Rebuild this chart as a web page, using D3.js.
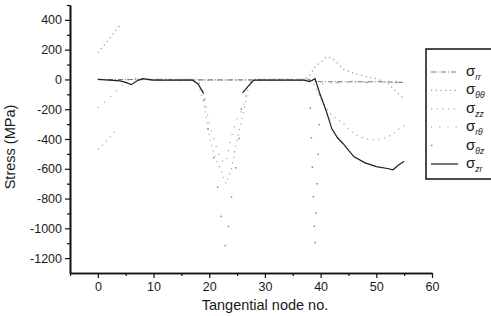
<!DOCTYPE html>
<html>
<head>
<meta charset="utf-8">
<script src="https://cdn.jsdelivr.net/npm/d3@7"></script>
<style>
  body { margin: 0; background: #fff; }
  text { font-family: "Liberation Sans", Arial, sans-serif; fill: #1a1a1a; }
</style>
</head>
<body>
<div id="viz"></div>
<script>
// tick values
var xMajor = [0, 10, 20, 30, 40, 50, 60]
var xMinor = [-5, 5, 15, 25, 35, 45, 55]
var yMajor = [-1200, -1000, -800, -600, -400, -200, 0, 200, 400]
var yMinor = [-1100, -900, -700, -500, -300, -100, 100, 300, 500]

// sigma_rr : dashed line sitting near zero
var nodesRR = [0, 5, 10, 15, 20, 25, 30, 35, 38, 40, 45, 50, 53, 55]
var sigmaRR = [0, 0, -3, -3, -3, -3, -3, -3, -5, -15, -15, -15, -18, -20]

// sigma_thth : dotted, upper left branch and the peak near node 41 (null = lost in the scan)
var nodesTT = [0, 1, 2, 3, 4, 5, 7, 10, 17, 20, 25, 28, 37, 38, 39, 40, 41, 42, 43, 44, 46, 48, 50, 52, 53, 54, 55]
var sigmaTT = [180, 225, 270, 320, 365, null, 0, 0, 0, -5, -5, 0, 0, 25, 85, 115, 150, 145, 110, 70, 40, 20, 5, -25, -60, -100, -130]

// sigma_zz : dotted, lower left branch, the V and the bowl near node 50
var nodesZZ = [0, 1, 2, 3, 4, 7, 10, 17, 18, 19, 20, 21, 22, 23, 24, 25, 26, 27, 28, 37, 38, 39, 40, 41, 42, 44, 46, 48, 50, 52, 53, 54, 55]
var sigmaZZ = [-470, -435, -395, -350, null, 0, 0, 0, -30, -150, -380, -520, -600, -700, -600, -400, -250, -60, 0, 0, -10, -40, -130, -190, -240, -295, -365, -400, -407, -388, -365, -335, -310]

// sigma_rth : sparse dots, rising from -190
var nodesRT = [0, 1, 2, 3, 4, 5, 6, 7, 10, 17, 18, 19, 20, 21, 22, 23, 24, 25, 26, 27, 28, 37, 38, 40, 45, 50, 55]
var sigmaRT = [-190, -160, -125, -90, -55, -15, 15, 5, 0, 0, -10, -90, -300, -420, -540, -560, -380, -260, -200, -20, 0, 0, 0, -30, -20, -15, -10]

// sigma_thz : very sparse dots, deep minima at nodes 23 and 39
var nodesTZ = [0, 10, 17, 19, 20, 21, 22, 23, 24, 25, 26, 28, 37, 38, 39, 40, 45, 50, 55]
var sigmaTZ = [0, 0, 0, -100, -400, -560, -880, -1150, -790, -540, -100, 0, 0, 0, -1140, -20, -20, -20, -20]

// sigma_zr : solid curve, wiggle at node 6 and the -600 bowl
var nodesZR = [0, 2, 4, 5, 6, 7, 8, 10, 12, 14, 16, 17, 18, 19, 20, 26, 27, 28, 30, 32, 34, 36, 37, 38, 39, 40, 41, 42, 43, 44, 46, 48, 50, 52, 53, 54, 55]
var sigmaZR = [0, -5, -10, -20, -35, -10, 5, -5, -5, -5, -5, -5, -30, -95, null, -90, -45, -5, -5, -5, -5, -5, -5, -15, 5, -110, -210, -330, -390, -430, -520, -560, -585, -598, -607, -575, -550]

var series = [
  { name: "rr", nodes: nodesRR, values: sigmaRR, color: "#777", dash: "5,2,1,2", width: 1.1 },
  { name: "θθ", nodes: nodesTT, values: sigmaTT, color: "#999", dash: "1.2,3.5", width: 1.3 },
  { name: "zz", nodes: nodesZZ, values: sigmaZZ, color: "#aaa", dash: "1.2,4.5", width: 1.3 },
  { name: "rθ", nodes: nodesRT, values: sigmaRT, color: "#aaa", dash: "1.2,7", width: 1.3 },
  { name: "θz", nodes: nodesTZ, values: sigmaTZ, color: "#888", dash: "1.5,28", width: 1.5 },
  { name: "zr", nodes: nodesZR, values: sigmaZR, color: "#1e1e1e", dash: null, width: 1.2 }
]

var width = 491, height = 316
var margin = { top: 5, right: 59, bottom: 43, left: 70 }

var svg = d3.select("#viz")
  .append("svg")
  .attr("width", width)
  .attr("height", height)

var x = d3.scaleLinear().domain([-5, 60]).range([margin.left, width - margin.right])
var y = d3.scaleLinear().domain([-1300, 500]).range([height - margin.bottom, margin.top])

var line = d3.line()
  .defined(function (d) { return d[1] != null })
  .x(function (d) { return x(d[0]) })
  .y(function (d) { return y(d[1]) })

// curves
series.forEach(function (s) {
  var pts = s.nodes.map(function (n, i) { return [n, s.values[i]] })
  svg.append("path")
    .datum(pts)
    .attr("fill", "none")
    .attr("stroke", s.color)
    .attr("stroke-width", s.width)
    .attr("stroke-dasharray", s.dash)
    .attr("d", line)
})

var fmt = function (d) { return String(d) }

// x axis
svg.append("g")
  .attr("transform", "translate(0," + y.range()[0] + ")")
  .call(d3.axisBottom(x).tickValues(xMajor).tickSize(5).tickSizeOuter(0).tickPadding(4).tickFormat(fmt))
svg.append("g")
  .attr("transform", "translate(0," + y.range()[0] + ")")
  .call(d3.axisBottom(x).tickValues(xMinor).tickSize(3).tickSizeOuter(0).tickFormat(""))

// y axis
svg.append("g")
  .attr("transform", "translate(" + x.range()[0] + ",0)")
  .call(d3.axisLeft(y).tickValues(yMajor).tickSize(5).tickSizeOuter(0).tickPadding(3).tickFormat(fmt))
svg.append("g")
  .attr("transform", "translate(" + x.range()[0] + ",0)")
  .call(d3.axisLeft(y).tickValues(yMinor).tickSize(3).tickSizeOuter(0).tickFormat(""))

svg.selectAll(".domain").attr("stroke", "#111").attr("stroke-width", 1.6)
svg.selectAll(".tick line").attr("stroke", "#111").attr("stroke-width", 1.2)
svg.selectAll(".tick text")
  .style("font-family", "'Liberation Sans', Arial, sans-serif")
  .style("font-size", "12.5px")
  .attr("fill", "#111")

// axis titles
svg.append("text")
  .attr("x", 265)
  .attr("y", 310)
  .attr("text-anchor", "middle")
  .style("font-size", "14.5px")
  .text("Tangential node no.")

svg.append("text")
  .attr("transform", "translate(15,147) rotate(-90)")
  .attr("text-anchor", "middle")
  .style("font-size", "14.5px")
  .text("Stress (MPa)")

// legend
var legend = svg.append("g")
legend.append("rect")
  .attr("x", 426)
  .attr("y", 49)
  .attr("width", 80)
  .attr("height", 130)
  .attr("fill", "none")
  .attr("stroke", "#111")
  .attr("stroke-width", 1.5)

series.forEach(function (s, i) {
  var ly = 72 + i * 18.4
  legend.append("line")
    .attr("x1", 431).attr("x2", 458)
    .attr("y1", ly).attr("y2", ly)
    .attr("stroke", s.color)
    .attr("stroke-width", s.width)
    .attr("stroke-dasharray", s.dash)
  var t = legend.append("text")
    .attr("x", 466)
    .attr("y", ly + 4)
    .style("font-size", "15px")
  t.append("tspan").text("σ")
  t.append("tspan")
    .attr("dy", 4)
    .style("font-size", "8.5px")
    .style("font-style", "italic")
    .text(s.name)
})
</script>
</body>
</html>
